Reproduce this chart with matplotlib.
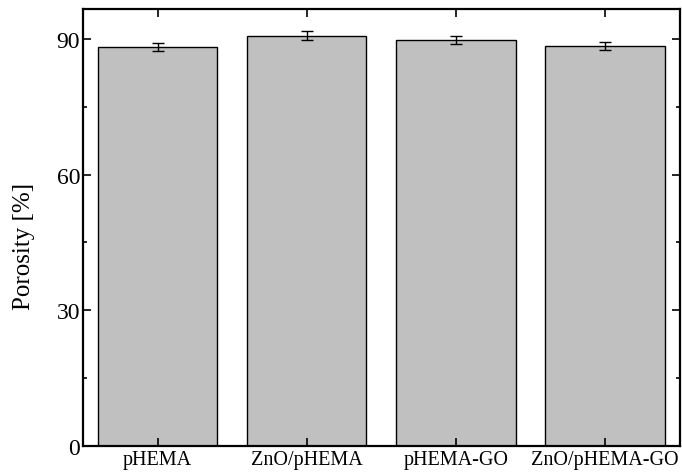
import matplotlib
matplotlib.use("Agg")
import matplotlib.pyplot as plt
import numpy as np
from matplotlib.ticker import MultipleLocator

samples = ["pHEMA", "ZnO/pHEMA", "pHEMA-GO", "ZnO/pHEMA-GO"]
porosity = [88.2, 90.7, 89.8, 88.4]
porosity_err = [0.9, 0.95, 0.9, 0.9]

plt.rcParams["font.family"] = ["Liberation Serif", "DejaVu Serif"]

fig = plt.figure(figsize=(6.82, 4.77), dpi=100)
ax = fig.add_axes([0.1217, 0.0629, 0.875, 0.916])

x = np.arange(len(samples))
ax.bar(x, porosity, width=0.8, color="#c0c0c0", edgecolor="black", linewidth=1.0,
       yerr=porosity_err, capsize=4, error_kw=dict(elinewidth=1.0, capthick=1.0, ecolor="black"))

ax.set_xlim(-0.5, 3.5)
ax.set_ylim(0, 96.6)
ax.set_xticks(x)
ax.set_xticklabels(samples, fontsize=14.5)
ax.yaxis.set_major_locator(MultipleLocator(30))
ax.yaxis.set_minor_locator(MultipleLocator(15))
ax.tick_params(axis="y", labelsize=17, pad=2)
ax.tick_params(axis="x", pad=3)
ax.tick_params(which="both", direction="in", top=True, right=True, width=1.2)
ax.tick_params(which="major", length=6)
ax.tick_params(which="minor", length=3)
ax.set_ylabel("Porosity [%]", fontsize=18)
ax.yaxis.set_label_coords(-0.08, 0.46)

for s in ax.spines.values():
    s.set_linewidth(1.6)

plt.savefig("out.png", dpi=100)
